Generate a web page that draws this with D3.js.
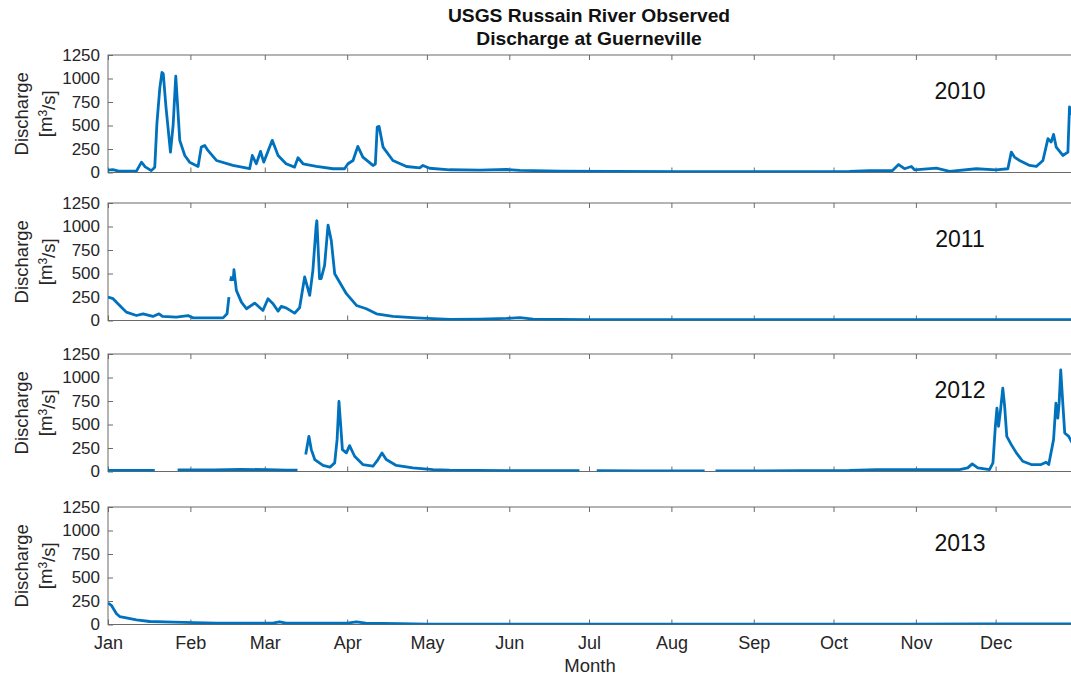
<!DOCTYPE html>
<html>
<head>
<meta charset="utf-8">
<script src="https://cdn.jsdelivr.net/npm/d3@7"></script>
<style>
  body { margin: 0; background: #fff; }
  svg { font-family: "Liberation Sans", Arial, Helvetica, sans-serif; }
  .tick text { fill: #262626; font-size: 17px; }
  .xax .tick text { font-size: 18px; }
  .tick line { stroke: #6a6a6a; }
</style>
</head>
<body>
<div id="chart"></div>
<script>
// discharge readings, [day of year, m3/s]; null marks a gap in the record
var flow2010 = [
  [0, 25], [1.8, 30], [4, 15], [10.7, 15], [12.6, 110], [14, 60], [16.3, 20], [17.6, 57], [18.4, 520],
  [19.5, 900], [20.3, 1065], [20.8, 1050], [21.8, 700], [23.5, 217], [24.5, 500], [25.5, 1025],
  [26, 800], [27, 342], [28.9, 181], [30.7, 110], [33.9, 64], [35.1, 270], [36.4, 288], [37.6, 235],
  [40.8, 128], [47, 75], [53.3, 40], [54.3, 181], [55.8, 93], [57.4, 224], [58.6, 110], [61.8, 342],
  [64, 181], [67, 93], [70.2, 57], [71.5, 157], [73.4, 93], [78.4, 64], [84.7, 40], [89, 40],
  [90.3, 93], [92.2, 128], [94, 278], [95.9, 164], [99.7, 75], [100.6, 90], [101.3, 484], [102, 491],
  [103.5, 270], [107.2, 128], [112.3, 64], [117.3, 50], [118.5, 75], [121, 45], [128.6, 29],
  [140, 25], [150, 32], [155, 22], [170, 15], [190, 12], [215, 8], [240, 8], [265, 10], [279, 11],
  [286.5, 21], [295.2, 21], [297.5, 85], [299.7, 40], [302.3, 64], [303.5, 29], [311.7, 46],
  [316.7, 11], [326.7, 40], [334.2, 29], [338.6, 40], [339.9, 217], [341.1, 164], [343, 128],
  [346.8, 75], [349.3, 64], [351.8, 128], [353.7, 360], [354.9, 324], [355.8, 406], [356.8, 270],
  [359.3, 181], [361.2, 217], [361.8, 697], [363, 600], [364.5, 450]
];
var flow2011 = [
  [0, 250], [1.9, 232], [4.4, 160], [6.9, 89], [10.7, 53], [13.2, 71], [16.9, 43], [19.2, 71],
  [20.5, 43], [25.7, 36], [30.1, 53], [32, 28], [43.3, 28], [44.8, 71], [45.5, 249], [null, null],
  [46.1, 420], [46.5, 470], [null, null], [47.1, 420], [47.4, 541], [48.3, 320], [50.2, 196],
  [52.1, 125], [55.2, 185], [58.3, 107], [60.2, 231], [62.1, 178], [64, 100], [65.2, 150], [67, 135],
  [70.2, 78], [72.1, 135], [74, 463], [75.9, 267], [77.1, 534], [78.3, 1000], [78.6, 1061],
  [79.6, 445], [80.2, 445], [81.5, 587], [82.8, 1015], [84, 854], [85.3, 498], [89.7, 285],
  [93.5, 160], [97.2, 125], [101, 71], [107.2, 43], [116, 28], [128.6, 11], [140, 15], [150, 22],
  [155, 30], [160, 15], [180, 10], [210, 8], [240, 8], [270, 8], [300, 9], [330, 10], [365, 10]
];
var flow2012 = [
  [0, 12], [17.6, 12], [null, null], [26.2, 18], [40, 16], [50, 22], [60, 20], [67, 14], [71.3, 14],
  [null, null], [74.4, 180], [75.6, 374], [76.5, 233], [77.8, 127], [80.9, 64], [83.5, 46],
  [85.3, 92], [86.2, 339], [86.9, 745], [87.5, 515], [88.2, 233], [89.7, 198], [90.9, 275],
  [92.8, 162], [95.9, 74], [99.7, 56], [101.6, 127], [103.1, 198], [104.7, 127], [108.5, 64],
  [114.7, 39], [122.3, 21], [128.6, 14], [150, 10], [177.4, 8], [null, null], [183.9, 8],
  [200, 7], [224.5, 7], [null, null], [228.6, 7], [260, 8], [279, 11], [289.2, 21], [320.4, 21],
  [323.5, 39], [325.2, 81], [327.3, 39], [331.7, 21], [333, 92], [333.9, 480], [334.5, 675],
  [335.1, 480], [335.8, 639], [336.7, 886], [337.4, 692], [338.2, 374], [339.9, 286], [341.8, 198],
  [344.2, 109], [347.4, 74], [351.1, 74], [353, 99], [354, 74], [355.8, 339], [356.7, 727],
  [357.4, 569], [357.9, 727], [358.5, 1080], [359.2, 762], [360, 410], [361.5, 374], [362.8, 304],
  [364.5, 260]
];
var flow2013 = [
  [0, 228], [1.3, 203], [3.2, 114], [4.4, 85], [6.9, 71], [10.7, 50], [15.7, 32], [24.5, 25],
  [40.8, 14], [62, 14], [64.6, 29], [67, 14], [90, 14], [93.5, 29], [97, 14], [110, 10], [120, 5],
  [150, 4], [200, 3], [250, 3], [300, 4], [330, 6], [365, 6]
];

var years = ["2010", "2011", "2012", "2013"];
var series = [flow2010, flow2011, flow2012, flow2013];
var yTicks = [0, 250, 500, 750, 1000, 1250];
var titleLines = ["USGS Russain River Observed", "Discharge at Guerneville"];

var width = 1071, height = 676;
var left = 108, right = 1078;
var panelTops = [55, 203, 354, 507];
var panelH = 117.5;

var svg = d3.select("#chart").append("svg")
    .attr("width", width)
    .attr("height", height);

var start = new Date(2010, 0, 1), end = new Date(2011, 0, 1);
var x = d3.scaleTime().domain([start, end]).range([left, right]);
var y = d3.scaleLinear().domain([0, 1250]).range([panelH, 0]);
var months = d3.timeMonths(start, end);

function dayToDate(d) {
    return new Date(start.getTime() + d * 864e5);
}

var line = d3.line()
    .defined(function(d) { return d[0] != null; })
    .x(function(d) { return x(dayToDate(d[0])); })
    .y(function(d) { return y(d[1]); });

// title (the source picture is a bit stretched sideways)
svg.append("g")
    .attr("transform", "translate(589,0) scale(1.1,1)")
  .selectAll("text")
    .data(titleLines)
  .enter().append("text")
    .attr("x", 0)
    .attr("y", 22)
    .attr("dy", function(d, i) { return i * 23; })
    .attr("text-anchor", "middle")
    .style("font-weight", "bold")
    .style("font-size", "17.5px")
    .style("fill", "#111")
    .text(function(d) { return d; });

series.forEach(function(data, i) {
    var g = svg.append("g").attr("transform", "translate(0," + panelTops[i] + ")");
    var last = i == series.length - 1;

    g.append("clipPath").attr("id", "clip" + i)
      .append("rect")
        .attr("x", left).attr("y", 0)
        .attr("width", right - left).attr("height", panelH);

    // axes, ticks pointing inward like matlab
    var ya = g.append("g")
        .attr("transform", "translate(" + left + ",0)")
        .call(d3.axisLeft(y).tickValues(yTicks).tickFormat(d3.format("d"))
            .tickSizeInner(-5).tickSizeOuter(0).tickPadding(8));
    ya.select(".domain").remove();

    var xb = g.append("g")
        .attr("class", "xax")
        .attr("transform", "translate(0," + panelH + ")")
        .call(d3.axisBottom(x).tickValues(months).tickSizeInner(-5).tickSizeOuter(0).tickPadding(12)
            .tickFormat(last ? d3.timeFormat("%b") : ""));
    xb.select(".domain").remove();

    var xt = g.append("g")
        .call(d3.axisTop(x).tickValues(months).tickSizeInner(-5).tickSizeOuter(0).tickFormat(""));
    xt.select(".domain").remove();

    g.append("rect")
        .attr("x", left).attr("y", 0)
        .attr("width", right - left).attr("height", panelH)
        .style("fill", "none")
        .style("stroke", "#6a6a6a")
        .style("stroke-width", 1);

    g.append("path")
        .datum(data)
        .attr("clip-path", "url(#clip" + i + ")")
        .attr("d", line)
        .style("fill", "none")
        .style("stroke", "#0072BD")
        .style("stroke-width", 2.8)
        .style("stroke-linejoin", "round");

    // y label, two lines
    var cy = panelH / 2;
    g.append("text")
        .attr("transform", "translate(28," + cy + ") rotate(-90)")
        .attr("text-anchor", "middle")
        .style("font-size", "18.5px")
        .style("fill", "#262626")
        .text("Discharge");
    var unit = g.append("text")
        .attr("transform", "translate(52," + cy + ") rotate(-90)")
        .attr("text-anchor", "middle")
        .style("font-size", "18.5px")
        .style("fill", "#262626");
    unit.append("tspan").text("[m");
    unit.append("tspan").attr("dy", "-0.45em").style("font-size", "12px").text("3");
    unit.append("tspan").attr("dy", "0.45em").text("/s]");

    g.append("text")
        .attr("x", 960)
        .attr("y", 43.5)
        .attr("text-anchor", "middle")
        .style("font-size", "23px")
        .style("fill", "#111")
        .text(years[i]);
});

svg.append("text")
    .attr("x", 590)
    .attr("y", 672)
    .attr("text-anchor", "middle")
    .style("font-size", "18.5px")
    .style("fill", "#262626")
    .text("Month");
</script>
</body>
</html>
